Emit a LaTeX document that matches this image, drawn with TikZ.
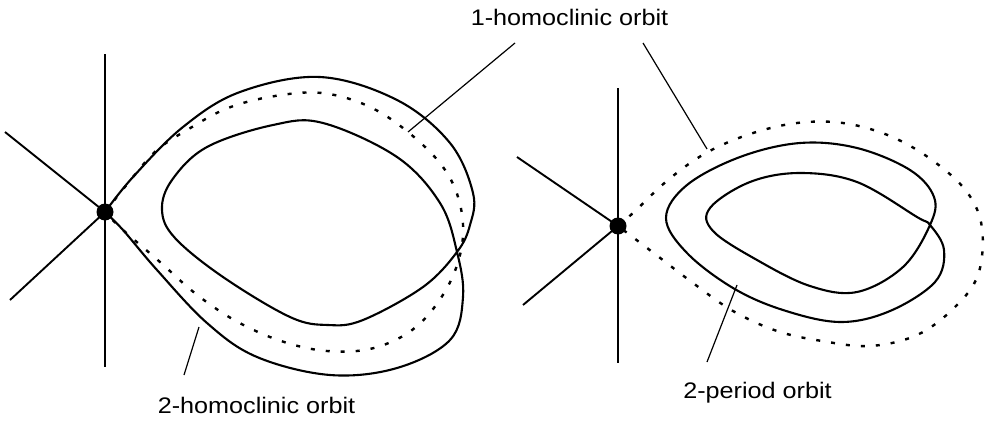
\documentclass[tikz,border=0pt]{standalone}
\usepackage{fontspec}
\setmainfont{Liberation Sans}
\begin{document}
\begin{tikzpicture}[x=1pt,y=-1pt,
  orbit/.style={line width=2.1pt, line join=round},
  dotorbit/.style={line width=2.4pt, dash pattern=on 4pt off 11pt, line cap=butt},
  axis/.style={line width=1.9pt},
  leader/.style={line width=1.2pt},
  saddle/.style={circle, fill=black, inner sep=0pt, minimum size=17pt},
  lbl/.style={anchor=base, inner sep=0pt, font=\fontsize{22.5}{27}\selectfont, xscale=1.12, transform shape}]
\useasboundingbox (0,0) rectangle (990,423);

% ---------- left figure ----------
\node[saddle] (S1) at (105,212) {};
\coordinate (A1t) at (105,54);
\coordinate (A1b) at (105,367);
\coordinate (A1u) at (5,132);
\coordinate (A1l) at (10,300);
\draw[axis] (A1t) -- (A1b);
\draw[axis] (A1u) -- (S1.center);
\draw[axis] (A1l) -- (S1.center);

% 2-homoclinic orbit (solid)
\draw[orbit] plot[smooth, tension=0.6] coordinates {
 (105,212) (133,177) (183,127) (240,92) (320,77) (397,100) (450,143) (473,193)
 (470,225) (457,252) (423,287) (363,320) (328,325) (290,317) (223,277) (175,238)
 (162,210) (172,180) (207,147) (273,125) (323,123) (397,157) (440,203) (457,252)
 (463,297) (450,340) (397,368) (330,375) (257,357) (207,323) (157,270) (123,230)
 (105,212)};

% 1-homoclinic orbit (dotted)
\draw[dotorbit] plot[smooth, tension=0.6] coordinates {
 (105,212) (133,177) (157,150) (187,130) (228,108) (275,96) (322,93)
 (368,106) (408,132) (443,167) (460,204) (462,245)
 (447,288) (416,327) (374,348) (327,351) (281,341)
 (236,321) (196,294) (160,262) (123,230) (105,212)};

% ---------- right figure ----------
\node[saddle] (S2) at (618,226) {};
\coordinate (A2t) at (618,88);
\coordinate (A2b) at (618,363);
\coordinate (A2u) at (517,157);
\coordinate (A2l) at (523,305);
\draw[axis] (A2t) -- (A2b);
\draw[axis] (A2u) -- (S2.center);
\draw[axis] (A2l) -- (S2.center);

% dotted homoclinic orbit
\draw[dotorbit] plot[smooth, tension=0.6] coordinates {
 (618,226) (633,213) (668,180) (706,153) (750,134) (797,123)
 (843,123) (890,136) (932,160) (967,192) (982,228)
 (978,275) (954,308) (917,335) (870,346) (822,341)
 (777,331) (733,311) (693,283) (655,254) (618,226)};

% 2-period orbit (solid)
\draw[orbit] plot[smooth cycle, tension=0.6] coordinates {
 (666,218) (687,185) (740,157) (800,143) (857,148) (910,170) (934,197)
 (930,225) (903,267) (857,292) (810,286) (757,260) (713,231) (710,208)
 (750,182) (800,173) (857,182) (917,217) (930,225) (944,250) (935,282)
 (890,311) (840,322) (783,310) (733,288) (687,253)};

% ---------- labels ----------
\node[lbl] (L1) at (569.5,25) {1-homoclinic orbit};
\node[lbl] (L2) at (256.5,413) {2-homoclinic orbit};
\node[lbl] (L3) at (757.5,398) {2-period orbit};

\coordinate (p1a) at (515,43);
\coordinate (p1b) at (408,132);
\coordinate (p2a) at (643,43);
\coordinate (p2b) at (707,149);
\coordinate (p3a) at (199,327);
\coordinate (p3b) at (184,375);
\coordinate (p4a) at (737,285);
\coordinate (p4b) at (707,362);
\draw[leader] (p1a) -- (p1b);
\draw[leader] (p2a) -- (p2b);
\draw[leader] (p3a) -- (p3b);
\draw[leader] (p4a) -- (p4b);
\end{tikzpicture}
\end{document}
